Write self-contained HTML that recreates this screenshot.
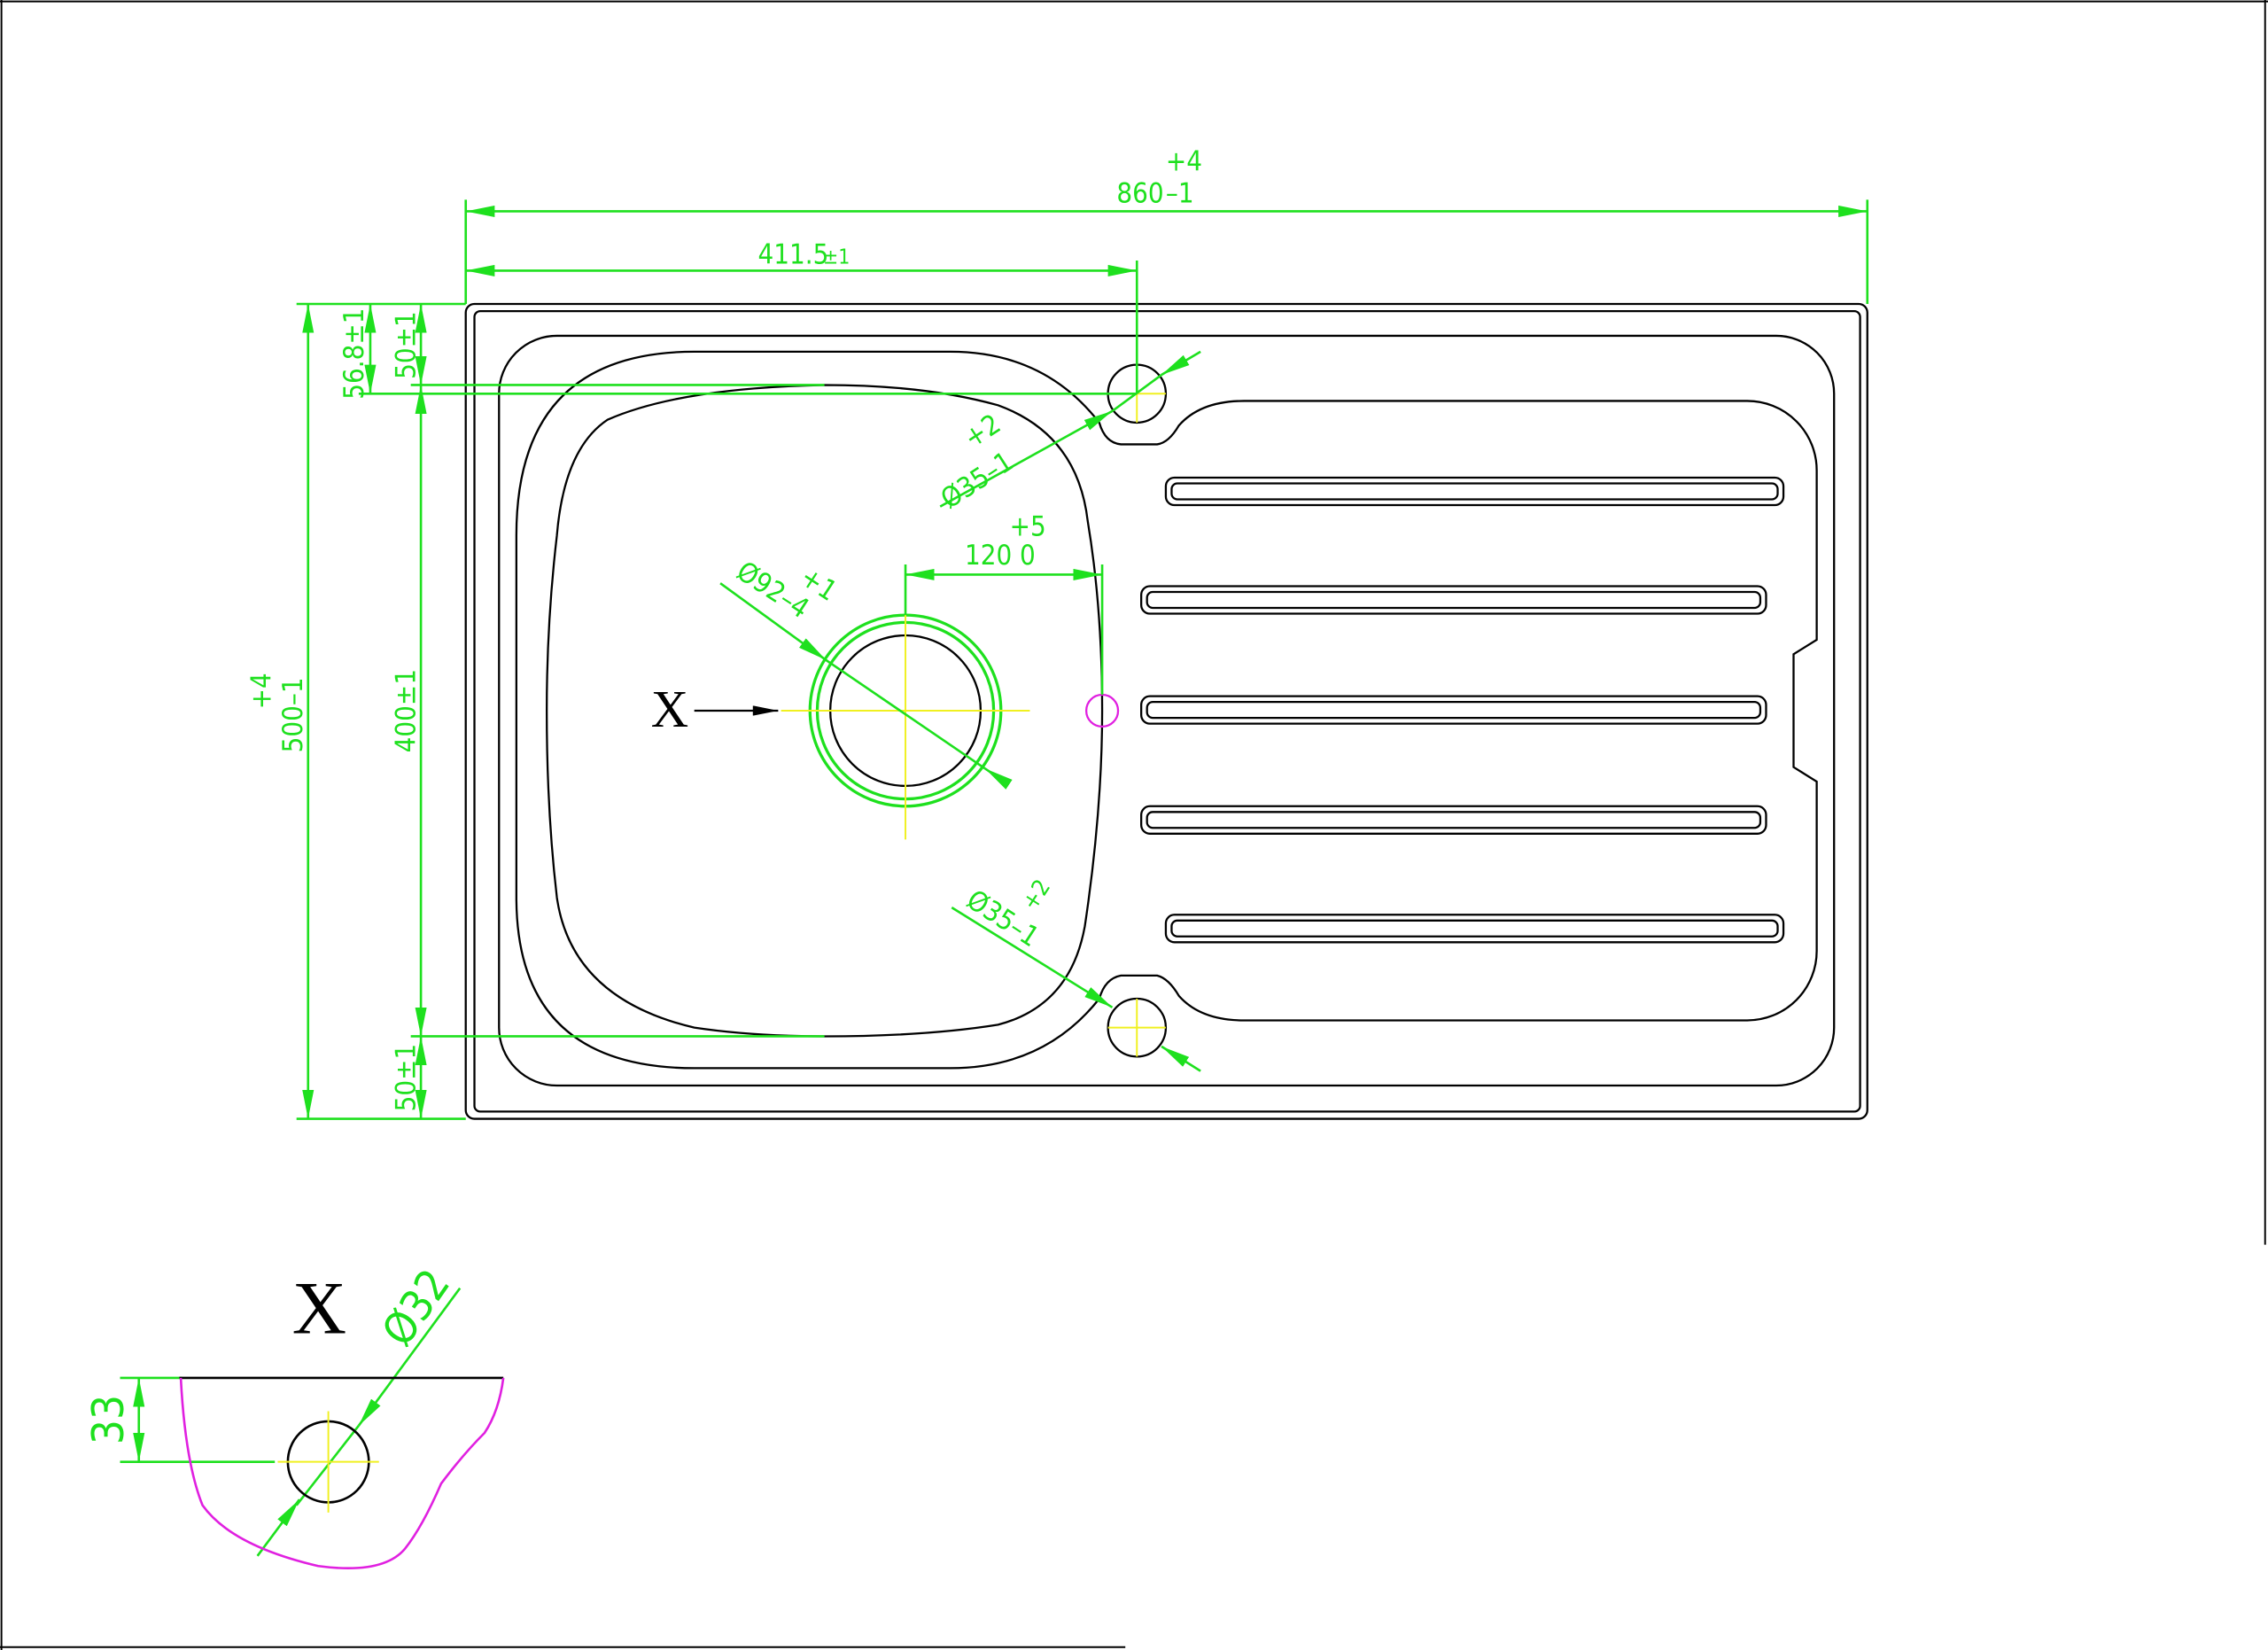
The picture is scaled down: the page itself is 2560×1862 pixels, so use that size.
<!DOCTYPE html>
<html><head><meta charset="utf-8"><style>
html,body{margin:0;padding:0;background:#fff;}
svg{display:block;}
text{font-family:"DejaVu Sans Condensed","Liberation Sans",sans-serif;}
text.s{font-family:"Liberation Serif",serif;}
</style></head><body>
<svg width="2560" height="1862" viewBox="0 0 1568 1140" preserveAspectRatio="none" xmlns="http://www.w3.org/2000/svg">
<defs>
<marker id="a" viewBox="0 0 10 4" refX="10" refY="2" markerWidth="20" markerHeight="8" markerUnits="userSpaceOnUse" orient="auto-start-reverse"><path d="M0,0L10,2L0,4z" fill="#1ee01e"/></marker>
<marker id="k" viewBox="0 0 10 4" refX="10" refY="2" markerWidth="18" markerHeight="7" markerUnits="userSpaceOnUse" orient="auto"><path d="M0,0L10,2L0,4z" fill="#000"/></marker>
</defs>
<rect width="1568" height="1140" fill="#fff"/>
<g stroke="#000" stroke-width="1.2" fill="none">
<line x1="0" y1="1" x2="1568" y2="1"/>
<line x1="1" y1="0" x2="1" y2="1140"/>
<line x1="1566" y1="0" x2="1566" y2="860"/>
<line x1="0" y1="1138" x2="778" y2="1138"/>
</g>
<g stroke="#000" stroke-width="1.4" fill="none">
<rect x="322" y="210" width="969" height="563" rx="6"/>
<rect x="328" y="215" width="958" height="553" rx="4"/>
<path d="M385,232 H1228 A40,40 0 0 1 1268,272 V710 A40,40 0 0 1 1228,750 H385 A40,40 0 0 1 345,710 V272 A40,40 0 0 1 385,232 Z"/>
<path d="M657,243 H480 Q357,243 357,370 V620 Q357,738 480,738 H657 Q722,738 760,690 Q764,676 775,674 H800 Q808,676 815,688 Q830,705 860,705 H1208 A48,48 0 0 0 1256,657 V540 L1240,530 V452 L1256,442 V325 A48,48 0 0 0 1208,277 H860 Q830,277 815,294 Q808,306 800,307 H775 Q764,306 760,292 Q722,243 657,243 Z"/>
<path d="M570,266 Q470,268 420,290 Q390,310 385,370 Q378,430 378,491 Q378,560 385,620 Q395,690 480,710 Q520,716 570,716 Q640,716 690,708 Q740,695 750,640 Q762,560 762,491 Q762,420 752,360 Q745,300 690,280 Q640,266 570,266 Z"/>
<rect x="806" y="330" width="427" height="19" rx="6"/>
<rect x="810" y="334" width="419" height="11" rx="4"/>
<rect x="789" y="405" width="432" height="19" rx="6"/>
<rect x="793" y="409" width="424" height="11" rx="4"/>
<rect x="789" y="481" width="432" height="19" rx="6"/>
<rect x="793" y="485" width="424" height="11" rx="4"/>
<rect x="789" y="557" width="432" height="19" rx="6"/>
<rect x="793" y="561" width="424" height="11" rx="4"/>
<rect x="806" y="632" width="427" height="19" rx="6"/>
<rect x="810" y="636" width="419" height="11" rx="4"/>
<circle cx="626" cy="491" r="52"/>
<circle cx="786" cy="272" r="20"/>
<circle cx="786" cy="710" r="20"/>
</g>
<circle cx="762" cy="491" r="11" fill="none" stroke="#e020e0" stroke-width="1.4"/>
<g stroke="#1ee01e" stroke-width="2" fill="none">
<circle cx="626" cy="491" r="66"/>
<circle cx="626" cy="491" r="61"/>
</g>
<g stroke="#f0f020" stroke-width="1.2">
<line x1="540" y1="491" x2="712" y2="491"/><line x1="626" y1="405" x2="626" y2="580"/>
<line x1="766" y1="272" x2="806" y2="272"/><line x1="786" y1="252" x2="786" y2="292"/>
<line x1="766" y1="710" x2="806" y2="710"/><line x1="786" y1="690" x2="786" y2="730"/>
</g>
<g stroke="#1ee01e" stroke-width="1.6" fill="none">
<line x1="322" y1="138" x2="322" y2="210"/><line x1="1291" y1="138" x2="1291" y2="210"/>
<line x1="322" y1="146" x2="1291" y2="146" marker-start="url(#a)" marker-end="url(#a)"/>
<line x1="786" y1="180" x2="786" y2="272"/>
<line x1="322" y1="187" x2="786" y2="187" marker-start="url(#a)" marker-end="url(#a)"/>
<line x1="205" y1="210" x2="322" y2="210"/><line x1="205" y1="773" x2="322" y2="773"/>
<line x1="213" y1="210" x2="213" y2="773" marker-start="url(#a)" marker-end="url(#a)"/>
<line x1="248" y1="272" x2="786" y2="272"/>
<line x1="256" y1="210" x2="256" y2="272" marker-start="url(#a)" marker-end="url(#a)"/>
<line x1="284" y1="266" x2="570" y2="266"/>
<line x1="284" y1="716" x2="570" y2="716"/>
<line x1="291" y1="210" x2="291" y2="266" marker-start="url(#a)" marker-end="url(#a)"/>
<line x1="291" y1="266" x2="291" y2="716" marker-start="url(#a)" marker-end="url(#a)"/>
<line x1="291" y1="716" x2="291" y2="773" marker-start="url(#a)" marker-end="url(#a)"/>
<line x1="626" y1="390" x2="626" y2="425"/><line x1="762" y1="390" x2="762" y2="480"/>
<line x1="626" y1="397" x2="762" y2="397" marker-start="url(#a)" marker-end="url(#a)"/>
<line x1="498" y1="403" x2="571" y2="456" marker-end="url(#a)"/>
<line x1="571" y1="456" x2="681" y2="531"/>
<line x1="696" y1="541" x2="681" y2="531" marker-end="url(#a)"/>
<line x1="650" y1="350" x2="769" y2="284" marker-end="url(#a)"/>
<line x1="830" y1="243" x2="803" y2="259" marker-end="url(#a)"/>
<line x1="803" y1="259" x2="769" y2="284"/>
<line x1="658" y1="627" x2="769" y2="696" marker-end="url(#a)"/>
<line x1="830" y1="740" x2="803" y2="723" marker-end="url(#a)"/>
<line x1="83" y1="952" x2="126" y2="952"/><line x1="83" y1="1010" x2="190" y2="1010"/>
<line x1="96" y1="952" x2="96" y2="1010" marker-start="url(#a)" marker-end="url(#a)"/>
<line x1="318" y1="890" x2="248" y2="985" marker-end="url(#a)"/>
<line x1="248" y1="985" x2="205" y2="1040"/>
<line x1="178" y1="1075" x2="207" y2="1036" marker-end="url(#a)"/>
</g>
<g fill="#1ee01e" font-size="19">
<text x="772" y="140">860</text><text x="806" y="140">–1</text><text x="806" y="118">+4</text>
<text x="524" y="182">411.5</text><text x="569" y="182" font-size="14">±1</text>
<text x="667" y="390">120</text><text x="705" y="390">0</text><text x="698" y="370">+5</text>
<text transform="translate(209,520) rotate(-90)">500–1</text>
<text transform="translate(187,490) rotate(-90)">+4</text>
<text transform="translate(251,276) rotate(-90)">56.8±1</text>
<text transform="translate(287,262) rotate(-90)">50±1</text>
<text transform="translate(287,520) rotate(-90)">400±1</text>
<text transform="translate(287,768) rotate(-90)">50±1</text>
<text transform="translate(656,352) rotate(-33)">Ø35–1</text>
<text transform="translate(672,310) rotate(-33)">+2</text>
<text transform="translate(508,398) rotate(33)">Ø92–4</text>
<text transform="translate(552,402) rotate(33)">+1</text>
<text transform="translate(667,625) rotate(33)">Ø35–1</text>
<text transform="translate(715,630) rotate(-57)" font-size="16">+2</text>
<text transform="translate(85,998) rotate(-90)" font-size="30">33</text>
<text transform="translate(280,932) rotate(-55)" font-size="30">Ø32</text>
</g>
<text class="s" x="450" y="502" font-size="36">X</text>
<line x1="480" y1="491" x2="538" y2="491" stroke="#000" stroke-width="1.4" marker-end="url(#k)"/>
<text class="s" x="202" y="921" font-size="52">X</text>
<line x1="124" y1="952" x2="348" y2="952" stroke="#000" stroke-width="1.6"/>
<path d="M125,952 Q128,1010 140,1040 Q160,1068 220,1082 Q265,1088 280,1070 Q292,1055 305,1025 Q320,1005 335,990 Q345,975 348,952" fill="none" stroke="#e020e0" stroke-width="1.6"/>
<circle cx="227" cy="1010" r="28" fill="none" stroke="#000" stroke-width="1.6"/>
<g stroke="#f0f020" stroke-width="1.2"><line x1="192" y1="1010" x2="262" y2="1010"/><line x1="227" y1="975" x2="227" y2="1045"/></g>
</svg>
</body></html>
